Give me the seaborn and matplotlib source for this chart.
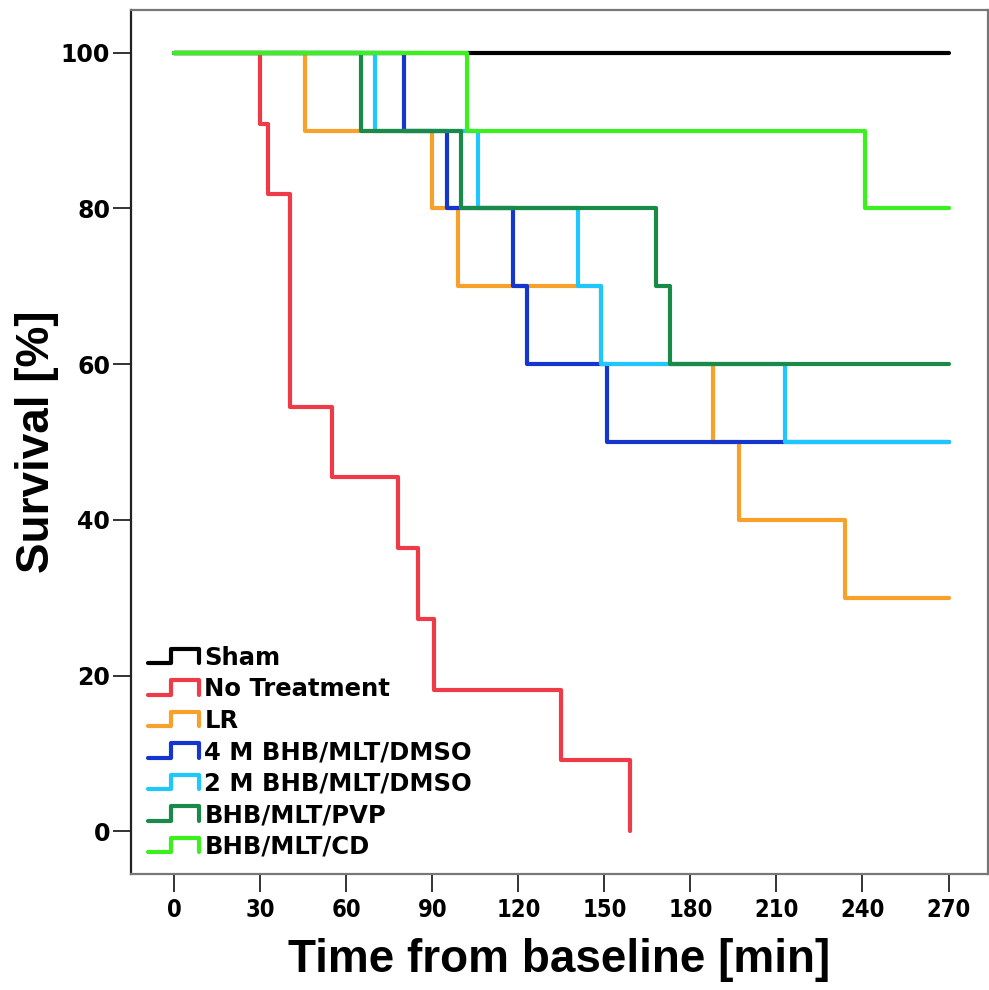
import seaborn as sns
import pandas as pd
import matplotlib.pyplot as plt
from matplotlib.lines import Line2D
from matplotlib.legend_handler import HandlerBase

# Kaplan-Meier steps (time in min, survival in %)
groups = ['Sham', 'No Treatment', 'LR', '4 M BHB/MLT/DMSO', '2 M BHB/MLT/DMSO',
          'BHB/MLT/PVP', 'BHB/MLT/CD']
colors = ['#000000', '#ef3b47', '#f7a02a', '#1535cf', '#1ec8ff', '#1a8a48', '#3cf01e']

t_sham = [0, 270]
s_sham = [100, 100]
t_none = [0, 30, 32.8, 40.4, 55, 78, 85, 90.6, 134.8, 158.9]
s_none = [100, 90.9, 81.8, 54.5, 45.5, 36.4, 27.3, 18.2, 9.1, 0]
t_lr = [0, 45.6, 90, 99, 149, 188, 197, 234, 270]
s_lr = [100, 90, 80, 70, 60, 50, 40, 30, 30]
t_4m = [0, 80, 95, 118, 123, 151, 270]
s_4m = [100, 90, 80, 70, 60, 50, 50]
t_2m = [0, 70, 106, 141, 149, 213, 270]
s_2m = [100, 90, 80, 70, 60, 50, 50]
t_pvp = [0, 65, 100, 168, 173, 270]
s_pvp = [100, 90, 80, 70, 60, 60]
t_cd = [0, 102, 241, 270]
s_cd = [100, 90, 80, 80]

times = [t_sham, t_none, t_lr, t_4m, t_2m, t_pvp, t_cd]
survs = [s_sham, s_none, s_lr, s_4m, s_2m, s_pvp, s_cd]

rows = []
for g, tt, ss in zip(groups, times, survs):
    for t, s in zip(tt, ss):
        rows.append({'group': g, 'time': t, 'survival': s})
df = pd.DataFrame(rows)

sns.set_style("white")
plt.rcParams['font.family'] = ['DejaVu Sans']
plt.rcParams['text.color'] = 'black'
plt.rcParams['axes.labelcolor'] = 'black'
plt.rcParams['xtick.color'] = 'black'
plt.rcParams['ytick.color'] = 'black'

fig = plt.figure(figsize=(9.89, 9.90), dpi=100)
ax = fig.add_axes([0.1325, 0.117, 0.866, 0.873])

sns.lineplot(data=df, x='time', y='survival', hue='group', hue_order=groups,
             palette=colors, drawstyle='steps-post', estimator=None, sort=False,
             lw=3, ax=ax, legend=False)

ax.set_xlim(-15, 283.6)
ax.set_ylim(-5.5, 105.5)
ax.set_xticks(range(0, 271, 30))
ax.set_yticks(range(0, 101, 20))

for side in ['top', 'right', 'bottom']:
    ax.spines[side].set_color('#777777')
    ax.spines[side].set_linewidth(1.6)
ax.spines['left'].set_color('#222222')
ax.spines['left'].set_linewidth(1.6)

ax.tick_params(axis='both', direction='out', length=13, width=1.4, color='#333333')
ax.tick_params(axis='y', pad=2, left=True)
ax.tick_params(axis='x', pad=4, bottom=True)
for lab in ax.get_yticklabels():
    lab.set_fontsize(17)
    lab.set_fontweight('bold')
for lab in ax.get_xticklabels():
    lab.set_fontsize(17)
    lab.set_fontweight('bold')
    lab.set_fontstretch('condensed')

ax.set_xlabel('Time from baseline [min]', fontsize=33, fontweight='bold',
              family=['Liberation Sans', 'DejaVu Sans'], labelpad=12)
ax.set_ylabel('Survival [%]', fontsize=33, fontweight='bold',
              family=['Liberation Sans', 'DejaVu Sans'], labelpad=1)


class StepHandler(HandlerBase):
    def create_artists(self, legend, orig_handle, xd, yd, width, height, fontsize, trans):
        xs = [0, 0.45 * width, 0.45 * width, width, width]
        ys = [0.1 * height, 0.1 * height, 0.95 * height, 0.95 * height, 0.1 * height]
        ln = Line2D([x - xd for x in xs], [y - yd for y in ys],
                    color=orig_handle.get_color(), lw=3, transform=trans)
        return [ln]


handles = [Line2D([], [], color=c) for c in colors]
leg = ax.legend(handles, groups, loc='lower left', bbox_to_anchor=(0.0, -0.002),
                frameon=False, handler_map={Line2D: StepHandler()},
                prop={'size': 17.5, 'weight': 'bold'}, handlelength=2.1,
                handletextpad=0.22, labelspacing=0.31, borderaxespad=0.3)

fig.savefig('out.png', dpi=100)
